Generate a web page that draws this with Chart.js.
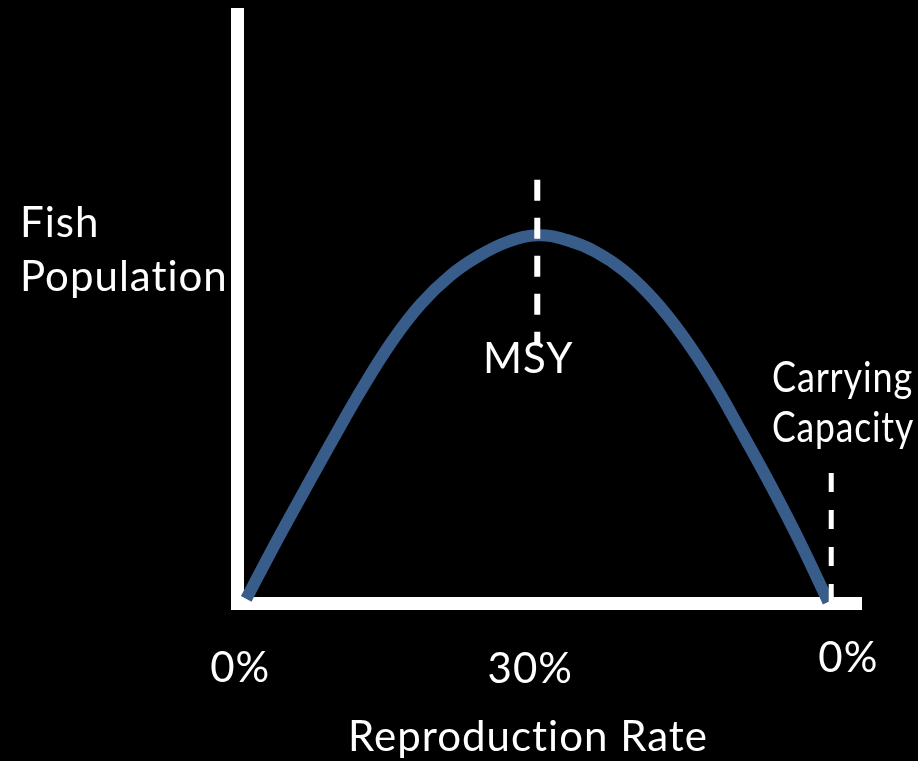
<!DOCTYPE html>
<html>
<head>
<meta charset="utf-8">
<script src="https://cdn.jsdelivr.net/npm/chart.js@4.4.1/dist/chart.umd.min.js"></script>
<style>
  html, body { margin: 0; padding: 0; background: #000; }
  canvas { display: block; }
</style>
</head>
<body>
<canvas id="chart" width="918" height="761"></canvas>
<script>
// curve (x: position along axis, y: population)
const curveX = [0, 5, 10, 15, 20, 25, 30, 35, 40, 45, 50, 55, 60, 65, 70, 75, 80, 85, 90, 95, 100];
const curveY = [0.7, 10.1, 19.1, 28.0, 36.6, 44.4, 50.8, 55.6, 59.0, 61.4, 62.5, 61.7, 59.7, 56.4, 51.6, 45.4, 37.9, 29.2, 20.2, 10.6, 0.2];

// dashed marker lines
const msyX = [50, 50];
const msyY = [71.9, 44.2];
const capacityX = [100.5, 100.5];
const capacityY = [22.1, -2.9];

// tick labels at x = 0, 50, 100
const tickValues = [0, 50, 100];
const tickLabels = ["0%", "30%", "0%"];

const toPoints = (xs, ys) => xs.map((x, i) => ({ x: x, y: ys[i] }));

// draws all the slide text (labels sit beside the plotted marks)
const textPlugin = {
  id: "slideText",
  afterDraw(chart) {
    const ctx = chart.ctx;
    const xs = chart.scales.x;
    ctx.save();
    ctx.fillStyle = "#ffffff";
    ctx.font = "42px Lato";
    ctx.letterSpacing = "1px"; // also stops the "ti" ligature
    ctx.textBaseline = "alphabetic";
    ctx.textAlign = "left";
    ctx.fillText("Fish", 20, 237);
    ctx.fillText("Population", 20, 291, 208);
    // Lato runs wider than the original face, squeeze these into their box
    ctx.fillText("Carrying", 772, 392, 141);
    ctx.fillText("Capacity", 772, 442, 142);

    ctx.textAlign = "center";
    ctx.fillText("MSY", xs.getPixelForValue(50) - 9, 373);
    const tickShift = [[-6, 682], [-7, 683], [20, 672]];
    tickValues.forEach((v, i) => {
      ctx.fillText(tickLabels[i], xs.getPixelForValue(v) + tickShift[i][0], tickShift[i][1]);
    });
    ctx.fillText("Reproduction Rate", 528, 751);
    ctx.restore();
  },
};

new Chart(document.getElementById("chart").getContext("2d"), {
  type: "line",
  data: {
    datasets: [
      {
        label: "Fish Population",
        data: toPoints(curveX, curveY),
        borderColor: "#385D8A",
        borderWidth: 12,
        pointRadius: 0,
        tension: 0.4,
        clip: false,
        order: 2,
      },
      {
        label: "MSY",
        data: toPoints(msyX, msyY),
        borderColor: "#ffffff",
        borderWidth: 6,
        borderDash: [21, 17],
        pointRadius: 0,
        clip: false,
        order: 1,
      },
      {
        label: "Carrying Capacity",
        data: toPoints(capacityX, capacityY),
        borderColor: "#ffffff",
        borderWidth: 5,
        borderDash: [19, 18],
        pointRadius: 0,
        clip: false,
        order: 1,
      },
    ],
  },
  options: {
    responsive: false,
    animation: false,
    layout: {
      padding: { left: 237.5, top: 14.5, right: 56.5, bottom: 158 },
    },
    scales: {
      x: {
        type: "linear",
        min: -1.5,
        max: 105.7,
        grid: { display: false, drawTicks: false },
        ticks: { display: false },
        border: { display: true, color: "#ffffff", width: 13 },
      },
      y: {
        type: "linear",
        min: 0,
        max: 100,
        grid: { display: false, drawTicks: false },
        ticks: { display: false },
        border: { display: true, color: "#ffffff", width: 13 },
      },
    },
    plugins: {
      legend: { display: false },
      tooltip: { enabled: false },
    },
  },
  plugins: [textPlugin],
});
</script>
</body>
</html>
